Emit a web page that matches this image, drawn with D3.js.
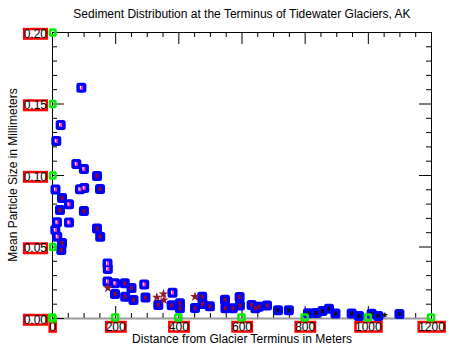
<!DOCTYPE html>
<html>
<head>
<meta charset="utf-8">
<script src="https://cdn.jsdelivr.net/npm/d3@7"></script>
<style>
  body { margin: 0; background: #fff; }
  svg text { font-family: "Liberation Sans", Arial, sans-serif; }
</style>
</head>
<body>
<svg id="chart"></svg>
<script>
// distance from terminus (m), mean particle size (mm), inner marker class
var distance = [93, 27.5, 13.6, 77, 101, 142.5, 11, 88.6, 102, 152, 31.7, 53.8, 25.3, 101,
  15.8, 53.8, 10.4, 142.5, 152.6, 16.8, 31.7, 29.4, 175.7, 176.7, 175.7, 199.5, 230.5, 251.7,
  199.5, 231.7, 258, 292, 296, 336.5, 381.5, 379, 405, 405, 452.7, 475.5, 477, 500, 547.7, 594,
  549, 572.7, 595, 632, 644, 655, 680.7, 715.5, 750, 810.5, 835.8, 856.4, 877, 897.5, 948.8,
  972, 1012, 1033, 1100];
var size = [0.161, 0.135, 0.1238, 0.1077, 0.1042, 0.0993, 0.0899, 0.09, 0.0909, 0.0902, 0.0839,
  0.0795, 0.0755, 0.0748, 0.0669, 0.0668, 0.0615, 0.0626, 0.0569, 0.0569, 0.0524, 0.0476,
  0.0381, 0.0343, 0.0255, 0.0243, 0.0243, 0.021, 0.0168, 0.0149, 0.0126, 0.0234, 0.0143,
  0.0091, 0.0177, 0.0089, 0.0103, 0.0068, 0.007, 0.0149, 0.0098, 0.0082, 0.0128, 0.0147,
  0.0068, 0.0068, 0.0087, 0.0091, 0.0068, 0.0079, 0.0087, 0.0054, 0.0054, 0.0033, 0.0035,
  0.0049, 0.0065, 0.0031, 0.0031, 0.0014, 0.0029, 0.0014, 0.0028];
var inner = ["p","p","p","p","p","r","p","p","p","r","r","p","r","r",
  "p","p","p","r","r","p","r","r","p","p","p","p","r","r",
  "r","r","r","p","r","r","p","r","r","r","r","r","r","r","r","r",
  "r","r","r","r","r","r","r","k","k","k","k","k","k","k","k",
  "k","k","k","k"];

var starDistance = [177, 332, 353, 354.5, 452.7, 1054];
var starSize = [0.021, 0.0145, 0.0168, 0.0126, 0.0149, 0.0021];
var starGroup = ["r", "r", "r", "r", "r", "k"];

var xTicks = [0, 200, 400, 600, 800, 1000, 1200];
var xLabels = ["0", "200", "400", "600", "800", "1000", "1200"];
var yTicks = [0, 0.05, 0.10, 0.15, 0.20];
var yLabels = ["0.00", "0.05", "0.10", "0.15", "0.20"];

var width = 452;
var height = 355;
var innerColor = { p: "#ff3c9a", r: "#8e0a1e", k: "#111" };

var svg = d3.select("#chart")
  .attr("width", width)
  .attr("height", height);

var x = d3.scaleLinear().domain([0, 1200]).range([52, 431]);
var y = d3.scaleLinear().domain([0, 0.2]).range([318, 32]);

var xMinor = d3.range(0, 1201, 50).filter(function(d) { return xTicks.indexOf(d) < 0; });
var yMinor = d3.range(1, 20).filter(function(d) { return d % 5 != 0; }).map(function(d) { return d / 100; });

function styleAxis(g, col) {
  g.selectAll("line").attr("stroke", "#000");
  g.select(".domain").attr("stroke", col || "#000");
  g.attr("font-family", null).attr("font-size", 12);
}

// frame: top and right
svg.append("g").attr("transform", "translate(0,32)")
  .call(d3.axisTop(x).tickValues(xTicks).tickSize(-12).tickSizeOuter(0).tickFormat(""))
  .call(styleAxis);
svg.append("g").attr("transform", "translate(0,32)")
  .call(d3.axisTop(x).tickValues(xMinor).tickSize(-5).tickSizeOuter(0).tickFormat(""))
  .call(styleAxis);
svg.append("g").attr("transform", "translate(431,0)")
  .call(d3.axisRight(y).tickValues(yTicks).tickSize(-12).tickSizeOuter(0).tickFormat(""))
  .call(styleAxis);
svg.append("g").attr("transform", "translate(431,0)")
  .call(d3.axisRight(y).tickValues(yMinor).tickSize(-5).tickSizeOuter(0).tickFormat(""))
  .call(styleAxis);

// minor ticks bottom / left
svg.append("g").attr("transform", "translate(0,318)")
  .call(d3.axisBottom(x).tickValues(xMinor).tickSize(-5).tickSizeOuter(0).tickFormat(""))
  .call(styleAxis);
svg.append("g").attr("transform", "translate(52,0)")
  .call(d3.axisLeft(y).tickValues(yMinor).tickSize(-5).tickSizeOuter(0).tickFormat(""))
  .call(styleAxis);

// major axes with labels
var xAxis = svg.append("g").attr("transform", "translate(0,318)")
  .call(d3.axisBottom(x).tickValues(xTicks).tickSize(-12).tickSizeOuter(0).tickPadding(4)
    .tickFormat(function(d, i) { return xLabels[i]; }))
  .call(styleAxis, "#999");
xAxis.select(".domain").attr("stroke-width", 2);

var yAxis = svg.append("g").attr("transform", "translate(52,0)")
  .call(d3.axisLeft(y).tickValues(yTicks).tickSize(-12).tickSizeOuter(0).tickPadding(5)
    .tickFormat(function(d, i) { return yLabels[i]; }))
  .call(styleAxis);
yAxis.selectAll("text").attr("dy", "0.42em");

// points
var pts = svg.append("g");
distance.forEach(function(d, i) {
  pts.append("rect")
    .attr("x", x(d) - 5).attr("y", y(size[i]) - 5)
    .attr("width", 10).attr("height", 10)
    .attr("rx", 2.5)
    .attr("fill", "#0000ff");
});
distance.forEach(function(d, i) {
  pts.append("rect")
    .attr("x", x(d) - 1.5).attr("y", y(size[i]) - 2)
    .attr("width", 3).attr("height", 4)
    .attr("fill", innerColor[inner[i]]);
  if (inner[i] == "p") {
    pts.append("rect")
      .attr("x", x(d) - 1.5).attr("y", y(size[i]) - 2)
      .attr("width", 1).attr("height", 3)
      .attr("fill", "#fff");
  }
});

svg.append("g").selectAll("path")
  .data(starDistance)
  .enter()
  .append("path")
  .attr("d", d3.symbol().type(d3.symbolStar).size(function(d, i) { return starGroup[i] == "k" ? 14 : 30; }))
  .attr("transform", function(d, i) { return "translate(" + x(d) + "," + y(starSize[i]) + ")"; })
  .attr("fill", function(d, i) { return starGroup[i] == "k" ? "#111" : "#8b1a2a"; });

// red boxes round tick labels
function boxLabels(axisG) {
  axisG.selectAll(".tick").each(function() {
    var t = d3.select(this).select("text");
    var b = t.node().getBBox();
    d3.select(this).insert("rect", "text")
      .attr("x", b.x + 0.5).attr("y", b.y + 2.5)
      .attr("width", b.width - 1).attr("height", b.height - 4.5)
      .attr("fill", "#fff")
      .attr("stroke", "#ff0000")
      .attr("stroke-width", 2.5);
  });
}
boxLabels(xAxis);
boxLabels(yAxis);

// green markers at the major ticks
var marks = svg.append("g");
yTicks.forEach(function(d) {
  marks.append("rect")
    .attr("x", 50).attr("y", y(d) - 2.5)
    .attr("width", 5.5).attr("height", 6)
    .attr("rx", 0.5)
    .attr("fill", "none")
    .attr("stroke", "#00ee00")
    .attr("stroke-width", 2.5);
});
xTicks.forEach(function(d) {
  marks.append("rect")
    .attr("x", x(d) - 3).attr("y", 314.5)
    .attr("width", 6).attr("height", 6)
    .attr("rx", 0.5)
    .attr("fill", "none")
    .attr("stroke", "#00ee00")
    .attr("stroke-width", 2.5);
});

// titles
svg.append("text")
  .attr("x", 242).attr("y", 18)
  .attr("text-anchor", "middle")
  .attr("font-size", 12)
  .text("Sediment Distribution at the Terminus of Tidewater Glaciers, AK");

svg.append("text")
  .attr("x", 242).attr("y", 343)
  .attr("text-anchor", "middle")
  .attr("font-size", 12)
  .text("Distance from Glacier Terminus in Meters");

svg.append("text")
  .attr("transform", "translate(17,175) rotate(-90)")
  .attr("text-anchor", "middle")
  .attr("font-size", 12)
  .text("Mean Particle Size in Millimeters");
</script>
</body>
</html>
